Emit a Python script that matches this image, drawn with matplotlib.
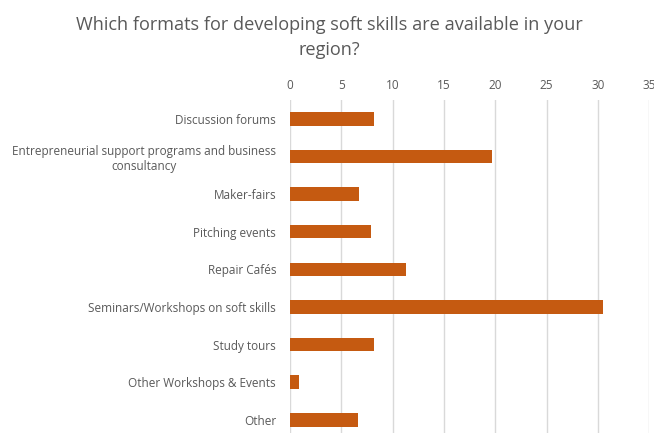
import matplotlib
matplotlib.use("Agg")
import matplotlib.pyplot as plt

categories = [
    "Discussion forums",
    "Entrepreneurial support programs and business\nconsultancy",
    "Maker-fairs",
    "Pitching events",
    "Repair Cafés",
    "Seminars/Workshops on soft skills",
    "Study tours",
    "Other Workshops & Events",
    "Other",
]
values = [8.2, 19.7, 6.7, 7.9, 11.3, 30.5, 8.2, 0.9, 6.6]
xticks = [0, 5, 10, 15, 20, 25, 30, 35]

BAR_COLOR = "#C55A11"
TEXT_COLOR = "#595959"
GRID_COLOR = "#D9D9D9"

plt.rcParams["font.family"] = ["Open Sans", "DejaVu Sans"]

W, H = 654, 433
fig = plt.figure(figsize=(W / 100, H / 100), dpi=100)

# plot area in pixels: starts at x=290, top at y=100, rows of ~37.6px,
# the last row runs a little past the bottom edge
left, top, right, bottom = 290, 100, 649.3, 438.6
ax = fig.add_axes([left / W, (H - bottom) / H, (right - left) / W, (bottom - top) / H])

y = list(range(len(categories)))
ax.barh(y, values, height=0.36, color=BAR_COLOR, zorder=3)

ax.set_ylim(len(categories) - 0.5, -0.5)
ax.set_xlim(0, 35)
ax.set_xticks(xticks)
ax.set_yticks(y)
ax.set_yticklabels(categories, multialignment="center")

ax.xaxis.tick_top()
ax.tick_params(axis="x", length=0, pad=6, labelsize=8.5, colors=TEXT_COLOR)
ax.tick_params(axis="y", length=0, pad=10, labelsize=8.5, colors=TEXT_COLOR)

ax.grid(axis="x", color=GRID_COLOR, linewidth=1, zorder=0)
for side in ["top", "right", "bottom", "left"]:
    ax.spines[side].set_visible(False)

fig.text(0.503, 0.962, "Which formats for developing soft skills are available in your\nregion?",
         ha="center", va="top", fontsize=13.1, color=TEXT_COLOR, linespacing=1.45)

fig.savefig("out.png", dpi=100)
